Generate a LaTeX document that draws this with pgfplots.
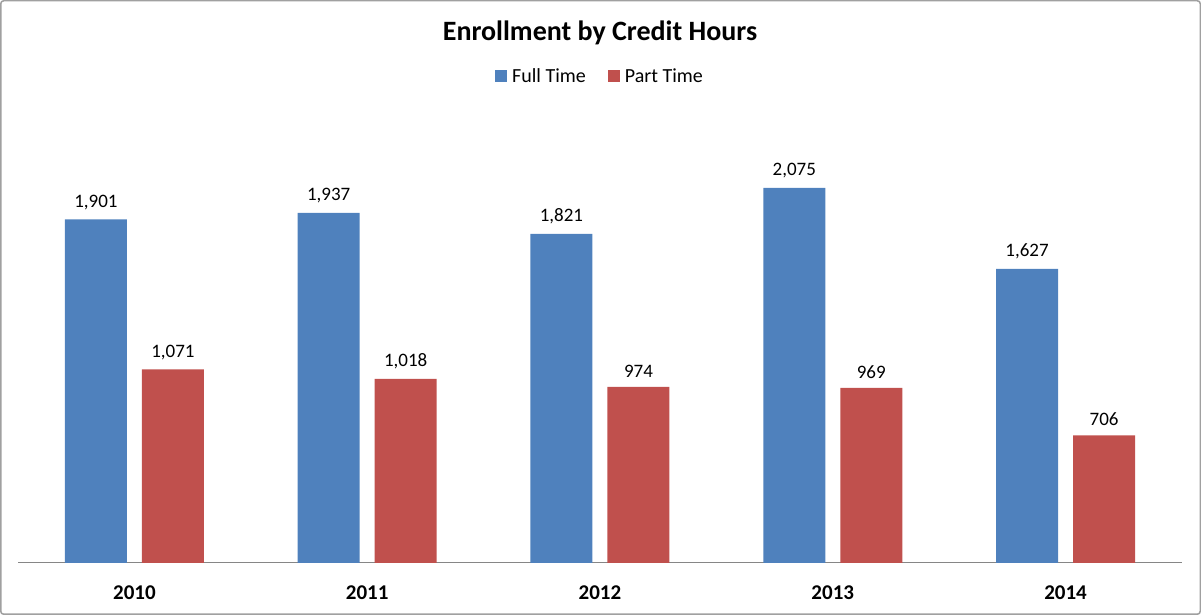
\documentclass[border=0pt]{standalone}
\usepackage{pgfplots}
\pgfplotsset{compat=1.18}
\usepackage{fontspec}
\setmainfont{Carlito}
\definecolor{ft}{HTML}{4F81BD}
\definecolor{pt}{HTML}{C0504D}
\definecolor{frame}{HTML}{A0A0A0}
\definecolor{base}{HTML}{868686}
\begin{document}
\begin{tikzpicture}
\begin{axis}[
  at={(18pt,52pt)}, anchor=south west,
  scale only axis, width=1164pt, height=452pt,
  xmin=-0.5, xmax=4.5, ymin=0, ymax=2500,
  axis x line=bottom, axis y line=none,
  x axis line style={-, draw=base, line width=1pt},
  xtick={0,1,2,3,4}, xticklabels={2010,2011,2012,2013,2014},
  major tick length=0pt,
  xticklabel style={font=\fontsize{21}{24}\selectfont\bfseries, yshift=-19pt},
  ytick=\empty,
  /pgf/number format/assume math mode=true,
  /pgf/number format/1000 sep={,},
  ybar, bar width=62pt,
  nodes near coords,
  every node near coord/.append style={font=\fontsize{19}{22}\selectfont, yshift=6pt, text=black},
  title={Enrollment by Credit Hours},
  title style={font=\fontsize{28}{32}\selectfont\bfseries, at={(0.5,1.159)}, anchor=center},
  legend style={draw=none, at={(0.5,1.0774)}, anchor=center, legend columns=2,
    font=\fontsize{20}{23}\selectfont,
    /tikz/every even column/.append style={column sep=20pt}},
  clip=false,
]
\addplot[fill=ft, draw=none, bar shift=-38.5pt,
  legend image code/.code={\fill[ft] (0pt,-6pt) rectangle (12pt,6pt); \path (15pt,0pt);}]
  coordinates {(0,1901) (1,1937) (2,1821) (3,2075) (4,1627)};
\addplot[fill=pt, draw=none, bar shift=38.5pt,
  legend image code/.code={\fill[pt] (0pt,-6pt) rectangle (12pt,6pt); \path (15pt,0pt);}]
  coordinates {(0,1071) (1,1018) (2,974) (3,969) (4,706)};
\legend{Full Time, Part Time}
\end{axis}
\draw[frame, line width=1.5pt, rounded corners=3pt] (0.75pt,0.75pt) rectangle (1200.25pt,614.25pt);
\pgfresetboundingbox
\useasboundingbox (0,0) rectangle (1201pt,615pt);
\end{tikzpicture}
\end{document}
